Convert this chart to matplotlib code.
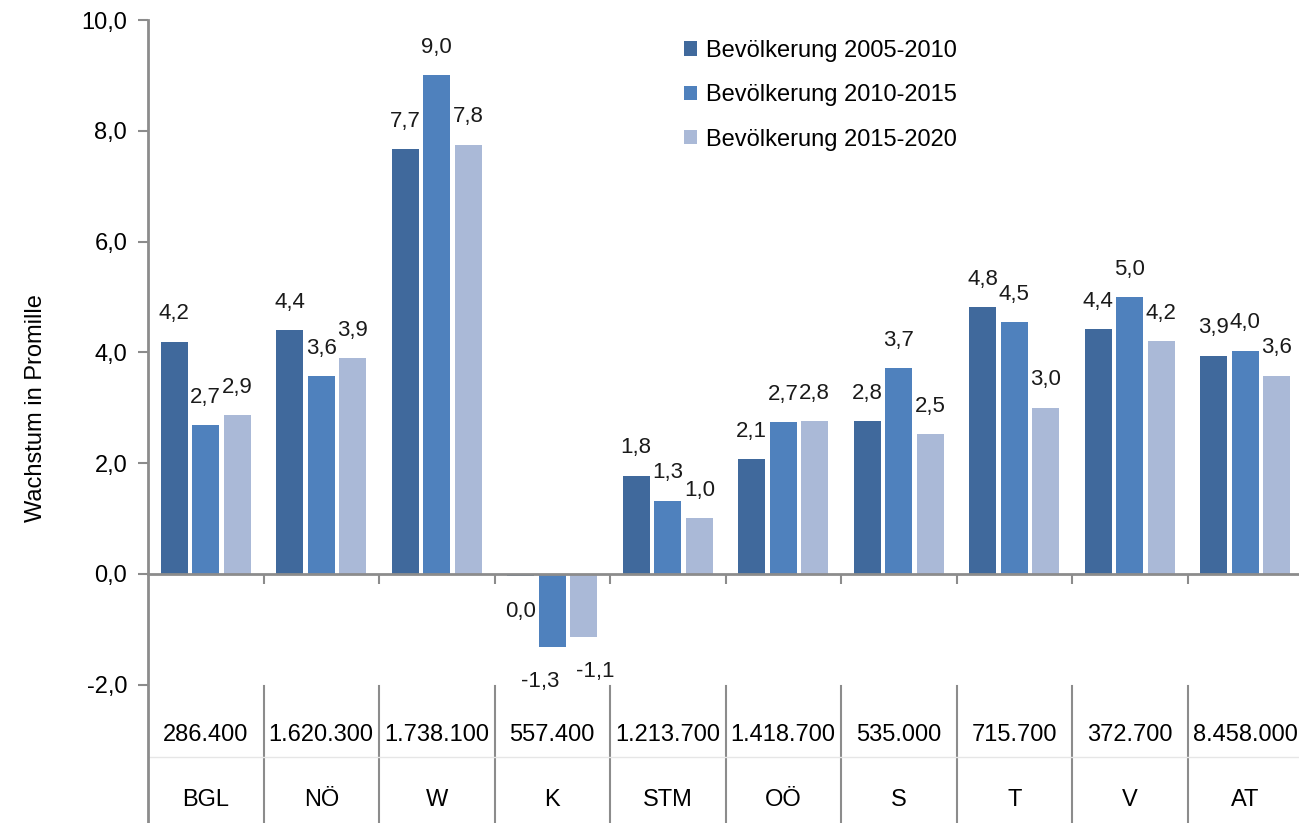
import matplotlib
matplotlib.use("Agg")
import matplotlib.pyplot as plt
from matplotlib.ticker import FuncFormatter
import numpy as np

plt.rcParams['font.family'] = ['Liberation Sans', 'DejaVu Sans']

regionen = ["BGL", "NÖ", "W", "K", "STM", "OÖ", "S", "T", "V", "AT"]
einwohner = ["286.400", "1.620.300", "1.738.100", "557.400", "1.213.700",
             "1.418.700", "535.000", "715.700", "372.700", "8.458.000"]
serien = ["Bevölkerung 2005-2010", "Bevölkerung 2010-2015", "Bevölkerung 2015-2020"]
w_2005_2010 = [4.19, 4.40, 7.67, -0.045, 1.77, 2.07, 2.76, 4.82, 4.42, 3.94]
w_2010_2015 = [2.68, 3.57, 9.00, -1.32, 1.32, 2.74, 3.72, 4.55, 5.00, 4.03]
w_2015_2020 = [2.87, 3.89, 7.75, -1.14, 1.00, 2.76, 2.52, 3.00, 4.20, 3.58]
farben = ["#40699C", "#4F81BD", "#AAB9D7"]


def fmt(v):
    s = "%.1f" % v
    if s == "-0.0":
        s = "0.0"
    return s.replace(".", ",")


fig = plt.figure(figsize=(12.99, 8.23), dpi=100)
ax = fig.add_axes([148/1299, 0, 1155/1299, 1 - 20/823])

x = np.arange(len(regionen))
breite = 0.23
abstand = 0.273
grau = "#8C8C8C"

for i, werte in enumerate([w_2005_2010, w_2010_2015, w_2015_2020]):
    pos = x + (i - 1) * abstand
    ax.bar(pos, werte, breite, color=farben[i], label=serien[i], zorder=2)
    for px, v in zip(pos, werte):
        dx = 0
        if v >= 0:
            off = 20
        else:
            off = -25
            # negative Labels etwas auseinanderschieben wie in Excel
            if i == 1 and v < -0.5:
                dx = -9
            if i == 2 and v < -0.5:
                dx = 8
        ax.annotate(fmt(v), (px, v), xytext=(dx, off), textcoords="offset points",
                    ha="center", va="center", fontsize=16, color="#1a1a1a")

ax.set_xlim(-0.5, len(regionen) - 0.5)
ax.set_ylim(-4.5, 10)
ax.set_yticks([-2, 0, 2, 4, 6, 8, 10])
ax.yaxis.set_major_formatter(FuncFormatter(lambda v, p: fmt(v)))
ax.tick_params(axis="y", labelsize=17, length=7, width=1.5, color=grau, pad=8)

# x-Achse auf Null, Striche zwischen den Kategorien
ax.spines['bottom'].set_position(('data', 0))
ax.spines['bottom'].set_color(grau)
ax.spines['bottom'].set_linewidth(2)
ax.set_xticks(x[:-1] + 0.5)
ax.set_xticklabels([])
ax.tick_params(axis="x", length=7, width=1.5, color=grau, direction="out")
ax.spines['left'].set_color(grau)
ax.spines['left'].set_linewidth(2)
ax.spines['top'].set_visible(False)
ax.spines['right'].set_visible(False)

# Tabelle unter dem Diagramm
for b in x[:-1] + 0.5:
    ax.plot([b, b], [-2.02, -4.5], color=grau, lw=1.5, clip_on=False)
ax.plot([-0.5, len(regionen) - 0.5], [-3.31, -3.31], color="#E6E6E6", lw=1)
for i in range(len(regionen)):
    ax.text(x[i], -2.91, einwohner[i], ha="center", va="center", fontsize=17)
    ax.text(x[i], -4.08, regionen[i], ha="center", va="center", fontsize=17)

fig.text(36/1299, 1 - 408/823, "Wachstum in Promille", rotation=90,
         ha="center", va="center", fontsize=17)

ax.legend(loc="upper left", bbox_to_anchor=(672/1299, 1 - 28/823),
          bbox_transform=fig.transFigure, frameon=False, fontsize=17,
          handlelength=0.55, handleheight=0.55, handletextpad=0.4,
          labelspacing=0.95, borderpad=0)

fig.savefig("out.png", dpi=100)
